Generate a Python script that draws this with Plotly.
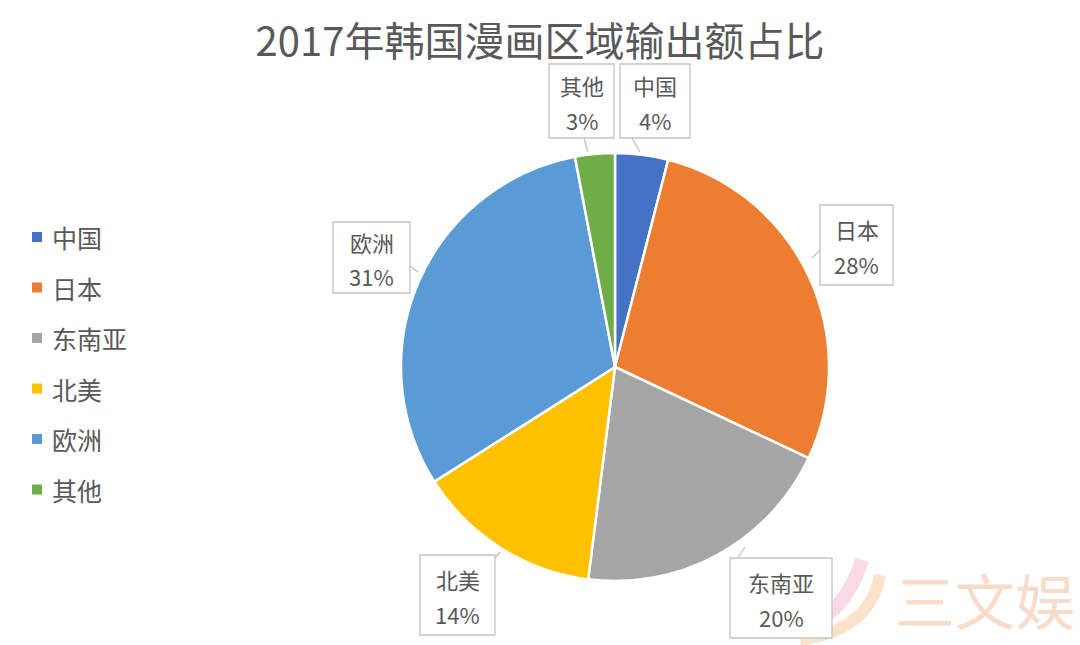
import plotly.graph_objects as go

labels = ["中国", "日本", "东南亚", "北美", "欧洲", "其他"]
values = [4, 28, 20, 14, 31, 3]
colors = ["#4472C4", "#ED7D31", "#A5A5A5", "#FFC000", "#5B9BD5", "#70AD47"]
title = "2017年韩国漫画区域输出额占比"

W, H = 1080, 645
cx, cy, r = 615, 367, 214
FONT = "Noto Sans CJK SC"
GRAY = "#595959"
BORDER = "#c4c4c4"

fig = go.Figure(go.Pie(
    labels=labels, values=values, sort=False, direction="clockwise", rotation=0,
    marker=dict(colors=colors, line=dict(color="white", width=2.5)),
    textinfo="none", hoverinfo="label+percent", showlegend=False,
    domain=dict(x=[(cx - r) / W, (cx + r) / W], y=[1 - (cy + r) / H, 1 - (cy - r) / H]),
))

def px(x, y):
    return x / W, 1 - y / H

shapes = []
annotations = []
# watermark swooshes (behind everything)
shapes.append(dict(type="path", xref="paper", yref="paper", layer="below",
                   path="M {},{} Q {},{} {},{}".format(*px(775, 632), *px(840, 630), *px(862, 560)),
                   line=dict(color="rgba(240,170,200,0.45)", width=14)))
shapes.append(dict(type="path", xref="paper", yref="paper", layer="below",
                   path="M {},{} Q {},{} {},{}".format(*px(800, 640), *px(870, 630), *px(880, 575)),
                   line=dict(color="rgba(245,190,140,0.45)", width=12)))
annotations.append(dict(
    x=985 / W, y=1 - 598 / H, xref="paper", yref="paper", xanchor="center", yanchor="middle",
    text="三文娱", showarrow=False,
    font=dict(size=60, color="rgba(240,185,150,0.5)", family=FONT),
))

# data label callouts: box (x0, y0, x1, y1) and pointer (from x, from y, tip x, tip y)
boxes = {
    "其他": ((549, 64, 614, 138), (584, 138, 588, 152)),
    "中国": ((620, 64, 690, 138), (632, 138, 640, 152)),
    "日本": ((820, 205, 893, 285), (820, 250, 812, 258)),
    "欧洲": ((333, 222, 410, 293), (410, 266, 418, 272)),
    "北美": ((420, 555, 495, 635), (495, 558, 500, 552)),
    "东南亚": ((730, 558, 832, 638), (738, 558, 745, 547)),
}
for lab, val in zip(labels, values):
    (x0, y0, x1, y1), (fx, fy, tx, ty) = boxes[lab]
    a0, b0 = px(x0, y1)
    a1, b1 = px(x1, y0)
    shapes.append(dict(type="rect", xref="paper", yref="paper", x0=a0, y0=b0, x1=a1, y1=b1,
                       fillcolor="white", line=dict(color=BORDER, width=1.3)))
    p0 = px(fx, fy)
    p1 = px(tx, ty)
    shapes.append(dict(type="line", xref="paper", yref="paper", x0=p0[0], y0=p0[1],
                       x1=p1[0], y1=p1[1], line=dict(color=BORDER, width=1.3)))
    mx, my = (x0 + x1) / 2, (y0 + y1) / 2
    for dy, txt in ((-16, lab), (19, f"{val}%")):
        annotations.append(dict(
            x=mx / W, y=1 - (my + dy) / H, xref="paper", yref="paper",
            xanchor="center", yanchor="middle", text=txt, showarrow=False,
            font=dict(size=22, color=GRAY, family=FONT),
        ))

# legend (manual, to match spacing)
for i, (lab, col) in enumerate(zip(labels, colors)):
    ly = 237 + i * 50.5
    annotations.append(dict(
        x=50 / W, y=1 - ly / H, xref="paper", yref="paper", xanchor="left", yanchor="middle",
        text=lab, showarrow=False, font=dict(size=25, color=GRAY, family=FONT),
    ))
    x0, y0 = px(32, ly - 5)
    x1, y1 = px(42, ly + 5)
    shapes.append(dict(type="rect", xref="paper", yref="paper", x0=x0, y0=y0, x1=x1, y1=y1,
                       fillcolor=col, line=dict(width=0)))

fig.update_layout(
    width=W, height=H, margin=dict(l=0, r=0, t=0, b=0),
    paper_bgcolor="white", plot_bgcolor="white",
    title=dict(text=title, x=0.5, xanchor="center", y=1 - 42 / H, yanchor="middle",
               font=dict(size=40, color=GRAY, family=FONT)),
    annotations=annotations, shapes=shapes,
)
fig.write_html("out.html")
